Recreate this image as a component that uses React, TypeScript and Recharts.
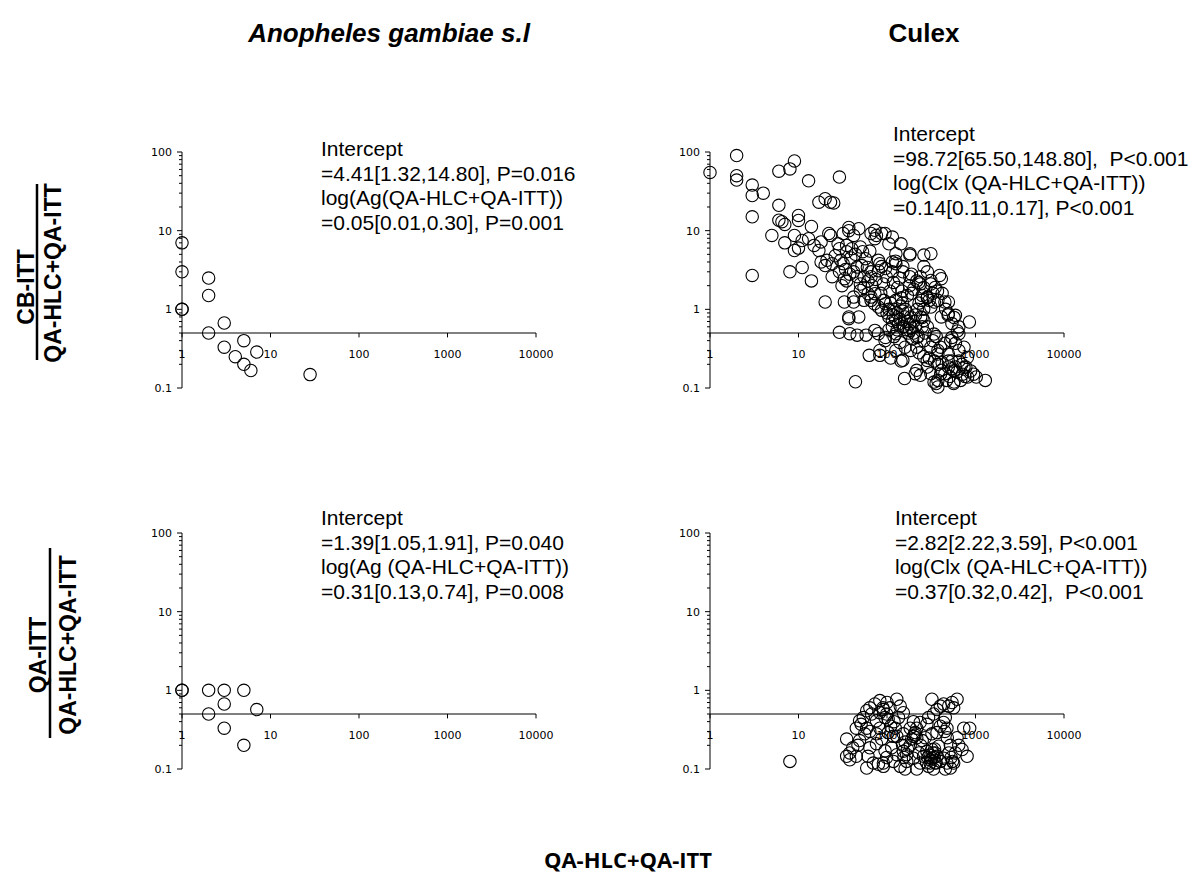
import { ScatterChart, Scatter, XAxis, YAxis, ReferenceLine, ReferenceDot } from "recharts"

// axis ticks (log scales)
const xTicks = [1, 10, 100, 1000, 10000]
const yMajor = [0.1, 1, 10, 100]
const yTicks = [
  0.1, 0.2, 0.3, 0.4, 0.5, 0.6, 0.7, 0.8, 0.9, 1, 2, 3, 4, 5, 6, 7, 8, 9, 10, 20, 30, 40, 50, 60, 70, 80, 90, 100,
]

// Anopheles gambiae s.l : [QA-HLC+QA-ITT, CB-ITT ratio]
const agCb: [number, number][] = [
  [1, 7], [1, 3], [1, 1], [1, 1], [2, 2.5], [2, 1.5], [2, 0.5], [3, 0.67], [3, 0.33],
  [4, 0.25], [5, 0.4], [5, 0.2], [6, 0.167], [7, 0.286], [28, 0.148],
]

// Anopheles gambiae s.l : [QA-HLC+QA-ITT, QA-ITT ratio]
const agQa: [number, number][] = [
  [1, 1], [1, 1], [2, 1], [3, 1], [5, 1], [3, 0.67], [2, 0.5], [7, 0.57], [3, 0.33], [5, 0.2],
]

// Culex : [QA-HLC+QA-ITT, CB-ITT ratio]
const culexCb: [number, number][] = [
  [1, 55], [2, 90], [2, 50], [2, 44], [3, 38], [3, 28], [3, 15], [3, 2.7], [4, 30], [5, 8.7],
  [6, 57], [6, 21], [6, 13.6], [6.5, 13], [7, 12], [7, 7], [8, 61], [9, 77], [8, 3], [9, 8.7],
  [9, 5.6], [10, 15.6], [10, 13.5], [10, 6], [11, 7.5], [11, 3.4], [13, 43], [14, 11.3], [13, 7.9], [14, 2.3],
  [15, 6.5], [17, 5.6], [17, 23], [18, 7.2], [18, 4], [20, 25.5], [20, 3.6], [20, 1.24], [21, 4.2], [22, 9.2],
  [23, 23], [23, 8.7], [25, 22.5], [24, 3.8], [24, 2.6], [29, 48], [29, 5.9], [29, 3], [29, 0.51], [30, 4.2],
  [32, 9.2], [32, 3.8], [33, 2.45], [33, 1.24], [35, 6.5], [35, 5.4], [35, 2.3], [37, 11], [37, 10], [37, 0.8],
  [37, 0.76], [38, 2.8], [38, 0.49], [40, 5.9], [42, 8.7], [42, 3], [42, 1.43], [42, 1.24], [44, 0.12], [46, 3.45],
  [46, 2.6], [46, 0.47], [48, 10.6], [48, 0.8], [50, 6.2], [50, 2.1], [50, 1.74], [53, 5.4], [55, 2.6], [55, 1.9],
  [55, 1.3], [58, 0.47], [61, 2.3], [61, 1.58], [63, 0.26], [66, 9.2], [66, 3], [66, 2.6], [66, 1.43], [66, 1.3],
  [72, 1.18], [73, 10.1], [73, 7.9], [73, 1.58], [73, 0.54], [76, 8.7], [80, 4.2], [80, 3.1], [80, 1.07], [80, 0.49],
  [83, 3.8], [83, 0.3], [83, 0.26], [87, 9.2], [87, 3.5], [87, 0.97], [91, 2.1], [95, 9.2], [95, 0.4], [96, 3.3],
  [96, 1.18], [96, 0.44], [100, 0.9], [105, 6.8], [105, 1.0], [105, 0.8], [110, 1.2], [110, 0.24], [115, 8.3], [115, 4.0],
  [115, 3], [115, 0.72], [115, 0.6], [118, 0.85], [120, 1.0], [125, 4.1], [125, 0.75], [126, 5.1], [126, 3.8], [126, 1.3],
  [126, 0.49], [126, 0.3], [130, 0.9], [130, 0.55], [135, 0.65], [140, 1.1], [140, 0.75], [144, 6.8], [144, 0.22], [145, 1.4],
  [150, 0.95], [150, 1.2], [151, 3.5], [151, 3.0], [151, 0.6], [151, 0.225], [155, 0.6], [158, 0.132], [160, 0.8], [160, 1.0],
  [165, 0.55], [170, 0.7], [170, 0.9], [170, 1.5], [175, 0.5], [180, 0.65], [180, 2.0], [181, 4.9], [181, 2.6], [181, 0.54],
  [182, 5.1], [185, 0.8], [189, 2.8], [190, 0.58], [190, 1.6], [195, 0.42], [200, 0.7], [200, 0.5], [200, 1.8], [208, 0.152],
  [210, 0.85], [210, 0.6], [217, 2.3], [217, 0.44], [217, 0.33], [217, 0.168], [220, 1.0], [225, 0.45], [228, 2.2], [230, 1.2],
  [238, 2.6], [238, 2.1], [238, 0.145], [240, 0.8], [245, 1.3], [250, 0.6], [250, 1.5], [250, 0.79], [260, 1.0], [260, 1.9],
  [261, 4.9], [261, 3.5], [261, 0.72], [261, 0.4], [270, 0.5], [285, 1.4], [285, 0.224], [286, 3], [286, 1.43], [286, 0.6],
  [286, 0.185], [300, 1.3], [313, 5.1], [313, 2.1], [313, 2.33], [313, 1.07], [313, 0.33], [313, 0.152], [330, 1.6], [340, 0.485],
  [340, 0.119], [343, 1.24], [343, 0.22], [350, 1.9], [359, 0.114], [372, 1.7], [376, 1.3], [376, 0.3], [376, 0.27], [376, 0.2],
  [376, 0.125], [376, 0.103], [393, 2.7], [403, 0.33], [403, 0.151], [411, 2.45], [411, 0.8], [411, 0.168], [420, 1.6], [451, 1.24],
  [451, 0.37], [451, 0.152], [460, 1.0], [490, 0.85], [494, 1.24], [494, 0.88], [494, 0.27], [494, 0.22], [494, 0.185], [525, 0.4],
  [541, 0.66], [541, 0.44], [541, 0.176], [566, 0.114], [572, 0.79], [572, 0.166], [572, 0.119], [593, 0.84], [593, 0.37], [593, 0.185],
  [624, 0.53], [649, 0.6], [649, 0.49], [649, 0.3], [649, 0.22], [711, 0.15], [741, 0.33], [741, 0.183], [778, 0.185], [809, 0.245],
  [814, 0.138], [853, 0.69], [1020, 0.138], [1290, 0.125],
  [26, 4.8], [28, 6.8], [31, 2.0], [34, 3.2], [39, 4.5], [44, 5], [52, 3.6], [57, 4.4], [60, 3.4], [64, 5.5],
  [68, 2], [75, 2.4], [85, 1.6], [92, 1.3], [98, 2.6], [108, 1.7], [118, 2.2], [132, 1.9], [138, 2.5], [148, 1.7],
  [105, 0.55], [120, 0.45], [140, 0.38], [160, 0.33], [185, 0.3], [230, 0.28], [260, 0.25], [300, 0.24], [330, 0.4], [360, 0.45],
  [420, 0.21], [470, 0.125], [510, 0.14], [540, 0.22], [620, 0.16], [680, 0.125], [700, 0.2], [760, 0.14], [880, 0.165], [950, 0.15],
]

// Culex : [QA-HLC+QA-ITT, QA-ITT ratio]
const culexQa: [number, number][] = [
  [8, 0.125],
  [35, 0.24], [35, 0.145], [38, 0.16], [38, 0.131], [41, 0.186], [45, 0.145], [47, 0.2], [49, 0.23], [45, 0.33], [49, 0.41],
  [51, 0.37], [54, 0.45], [56, 0.28], [59, 0.55], [59, 0.33], [59, 0.103], [61, 0.145], [64, 0.6], [64, 0.3], [64, 0.186],
  [67, 0.5], [70, 0.119], [73, 0.67], [76, 0.41], [76, 0.28], [76, 0.21], [80, 0.115], [83, 0.74], [83, 0.52], [83, 0.33],
  [87, 0.24], [91, 0.57], [91, 0.119], [91, 0.108], [95, 0.17], [99, 0.5], [99, 0.14], [103, 0.43], [103, 0.29], [108, 0.6],
  [113, 0.186], [118, 0.26], [118, 0.125], [124, 0.33], [129, 0.77], [129, 0.26], [129, 0.152], [135, 0.45], [141, 0.63], [141, 0.108],
  [153, 0.52], [153, 0.28], [153, 0.168], [160, 0.1], [167, 0.152], [167, 0.125], [183, 0.33], [183, 0.2], [190, 0.24], [199, 0.4],
  [199, 0.26], [199, 0.137], [208, 0.29], [208, 0.27], [217, 0.33], [217, 0.25], [217, 0.1], [237, 0.39], [237, 0.119],
  [259, 0.145], [270, 0.25], [282, 0.37], [282, 0.168], [295, 0.45], [295, 0.108], [308, 0.119], [322, 0.77], [322, 0.28], [322, 0.177],
  [322, 0.137], [336, 0.5], [336, 0.1], [350, 0.16], [350, 0.119], [367, 0.57], [367, 0.29], [367, 0.145], [383, 0.195], [400, 0.63],
  [400, 0.35], [400, 0.125], [436, 0.67], [436, 0.39], [436, 0.137], [456, 0.45], [456, 0.1], [476, 0.33], [476, 0.119], [498, 0.63],
  [520, 0.2], [520, 0.103], [543, 0.7], [567, 0.6], [567, 0.119], [593, 0.16], [619, 0.77], [619, 0.25], [647, 0.2], [705, 0.177],
  [737, 0.33], [804, 0.145], [860, 0.33],
  [300, 0.15], [310, 0.13], [330, 0.16], [340, 0.14], [360, 0.12], [290, 0.14], [280, 0.12], [345, 0.18], [150, 0.2], [160, 0.22],
  [170, 0.18], [155, 0.14], [240, 0.2], [250, 0.23], [230, 0.16], [120, 0.4], [110, 0.35], [95, 0.45], [90, 0.6], [100, 0.7],
  [450, 0.3], [480, 0.25], [500, 0.16], [530, 0.14], [550, 0.125],
]

const annotations = [
  { left: 321, top: 137, lines: ["Intercept", "=4.41[1.32,14.80], P=0.016", "log(Ag(QA-HLC+QA-ITT))", "=0.05[0.01,0.30], P=0.001"] },
  { left: 893, top: 122, lines: ["Intercept", "=98.72[65.50,148.80],  P<0.001", "log(Clx (QA-HLC+QA-ITT))", "=0.14[0.11,0.17], P<0.001"] },
  { left: 321, top: 506, lines: ["Intercept", "=1.39[1.05,1.91], P=0.040", "log(Ag (QA-HLC+QA-ITT))", "=0.31[0.13,0.74], P=0.008"] },
  { left: 895, top: 506, lines: ["Intercept", "=2.82[2.22,3.59], P<0.001", "log(Clx (QA-HLC+QA-ITT))", "=0.37[0.32,0.42],  P<0.001"] },
]

const tickFont = "'DejaVu Sans', Verdana, sans-serif"
const textFont = "'Liberation Sans', Arial, sans-serif"

const Ring = (props: any) => (
  <circle cx={props.cx} cy={props.cy} r={6.2} fill="none" stroke="#000" strokeWidth={1.1} />
)

const YTick = (props: any) => {
  const { x, y, payload } = props
  const major = yMajor.includes(payload.value)
  return (
    <g>
      <line x1={x - (major ? 5 : 3)} x2={x} y1={y} y2={y} stroke="#000" />
      {major && (
        <text x={x - 10} y={y} dy={4} textAnchor="end" fontSize={11} fontFamily={tickFont} fill="#000">
          {String(payload.value)}
        </text>
      )}
    </g>
  )
}

function Panel({ data, left, top }: { data: [number, number][]; left: number; top: number }) {
  const pts = data.map(([x, y]) => ({ x, y }))
  return (
    <div style={{ position: "absolute", left, top }}>
      <ScatterChart width={424} height={256} margin={{ top: 10, right: 30, bottom: 10, left: 0 }}>
        <XAxis type="number" dataKey="x" scale="log" domain={[1, 10000]} hide />
        <YAxis
          type="number"
          dataKey="y"
          scale="log"
          domain={[0.1, 100]}
          ticks={yTicks}
          interval={0}
          width={40}
          tickSize={0}
          tickMargin={0}
          tickLine={false}
          axisLine={{ stroke: "#000" }}
          tick={<YTick />}
        />
        <ReferenceLine y={0.5} stroke="#000" />
        {xTicks.map((v) => (
          <ReferenceLine key={"t" + v} segment={[{ x: v, y: 0.5 }, { x: v, y: 0.44 }]} stroke="#000" />
        ))}
        {xTicks.map((v) => (
          <ReferenceDot
            key={"l" + v}
            x={v}
            y={0.5}
            r={0}
            fill="none"
            stroke="none"
            label={{ value: String(v), position: "bottom", offset: 17, fontSize: 11, fontFamily: tickFont, fill: "#000" }}
          />
        ))}
        <Scatter data={pts} isAnimationActive={false} shape={Ring} />
      </ScatterChart>
    </div>
  )
}

export default function App() {
  return (
    <div style={{ position: "absolute", left: 0, top: 0, width: 1200, height: 889, background: "#fff", fontFamily: textFont }}>
      <div style={{ position: "absolute", left: 389, top: 33, transform: "translate(-50%,-50%)", fontSize: 26, fontWeight: "bold", fontStyle: "italic", whiteSpace: "nowrap" }}>
        Anopheles gambiae s.l
      </div>
      <div style={{ position: "absolute", left: 924, top: 33, transform: "translate(-50%,-50%)", fontSize: 26, fontWeight: "bold", whiteSpace: "nowrap" }}>
        Culex
      </div>

      <Panel data={agCb} left={142} top={142} />
      <Panel data={culexCb} left={670} top={142} />
      <Panel data={agQa} left={142} top={523} />
      <Panel data={culexQa} left={670} top={523} />

      {annotations.map((a, i) => (
        <div key={i} style={{ position: "absolute", left: a.left, top: a.top, fontSize: 21, lineHeight: "24.7px", whiteSpace: "pre", color: "#000" }}>
          {a.lines.map((l, j) => (
            <div key={j}>{l}</div>
          ))}
        </div>
      ))}

      <svg width={1200} height={889} style={{ position: "absolute", left: 0, top: 0, pointerEvents: "none" }}>
        <g fontFamily={textFont} fontWeight="bold" fontSize={23} fill="#000">
          <text transform="translate(34,287) rotate(-90)" textAnchor="middle">CB-ITT</text>
          <line x1={37} x2={37} y1={184} y2={360} stroke="#000" strokeWidth={2.5} />
          <text transform="translate(61,273) rotate(-90)" textAnchor="middle">QA-HLC+QA-ITT</text>
          <text transform="translate(46,655) rotate(-90)" textAnchor="middle">QA-ITT</text>
          <line x1={50} x2={50} y1={548} y2={738} stroke="#000" strokeWidth={2.5} />
          <text transform="translate(76,645) rotate(-90)" textAnchor="middle">QA-HLC+QA-ITT</text>
        </g>
        <text x={628} y={868} textAnchor="middle" fontFamily="'Open Sans', sans-serif" fontWeight="bold" fontSize={22} fill="#000">
          QA-HLC+QA-ITT
        </text>
      </svg>
    </div>
  )
}
